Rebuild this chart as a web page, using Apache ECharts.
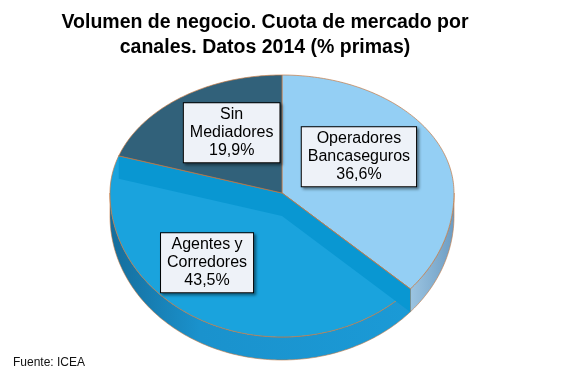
<!DOCTYPE html>
<html lang="es">
<head>
    <meta charset="UTF-8">
    <title>Cuota de mercado por canales 2014</title>
    <script src="https://cdn.jsdelivr.net/npm/echarts@6/dist/echarts.min.js"></script>
</head>
<body style="margin:0">
<style>
    html, body { width: 567px; height: 378px; background: #fff; }
    #main { width: 567px; height: 378px; }
</style>
<div id="main"></div>
<script type="text/javascript">
    // datos
    var categories = ['Operadores\nBancaseguros', 'Agentes y\nCorredores', 'Sin\nMediadores']
    var shares = [36.6, 43.5, 19.9]

    // geometria del pastel "3D" (elipse con algo de perspectiva)
    var cx = 282, cy = 193, rx = 172, ryTop = 118, ryBot = 144, depth = 23
    var topColors = ['#94cff4', '#1aa3dd', '#31617a']
    var labelSpot = [[0.49, 0.75], [0.87, 0.56], [0.5, 0.63]]
    var edge = '#c47a45'

    function pt(t, dy) {
        var s = Math.sin(t), c = Math.cos(t)
        var ry = c > 0 ? ryTop : ryBot
        return [cx + rx * s, cy - ry * c + (dy || 0)]
    }

    function arc(a, b, dy) {
        var pts = []
        var n = Math.max(2, Math.ceil((b - a) / (Math.PI / 180)))
        for (var k = 0; k <= n; k++) pts.push(pt(a + (b - a) * k / n, dy))
        return pts
    }

    var total = shares.reduce(function (a, b) { return a + b }, 0)

    function renderItem(params, api) {
        var i = params.dataIndex
        var before = 0
        for (var j = 0; j < i; j++) before += shares[j]
        var a = before / total * Math.PI * 2
        var b = (before + api.value(0)) / total * Math.PI * 2
        var children = []

        // pared lateral (solo la mitad delantera)
        var fa = Math.max(a, Math.PI / 2), fb = Math.min(b, Math.PI * 1.5)
        if (fb > fa) {
            var up = arc(fa, fb, 0), down = arc(fa, fb, depth).reverse()
            var sideFill = i === 0
                ? new echarts.graphic.LinearGradient(0, 0, 1, 0, [
                    {offset: 0, color: '#9cc5e2'}, {offset: 1, color: '#6d9cc2'}])
                : new echarts.graphic.LinearGradient(0, 0, 1, 0, [
                    {offset: 0, color: '#156d9c'}, {offset: 0.3, color: '#1a92cd'},
                    {offset: 1, color: '#1b9ad6'}])
            children.push({
                type: 'polygon',
                shape: {points: up.concat(down)},
                style: {fill: sideFill, stroke: edge, lineWidth: 0.6}
            })
        }

        // cara superior
        children.push({
            type: 'polygon',
            shape: {points: [[cx, cy]].concat(arc(a, b, 0))},
            style: {fill: topColors[i], stroke: edge, lineWidth: 0.7}
        })

        // caras de corte que se ven a traves del sector grande
        if (i === 1) {
            [a, b].forEach(function (t) {
                var p = pt(t, 0), q = pt(t, depth)
                children.push({
                    type: 'polygon',
                    shape: {points: [[cx, cy], p, q, [cx, cy + depth]]},
                    style: {fill: '#0997d2', stroke: null}
                })
                children.push({
                    type: 'line',
                    shape: {x1: cx, y1: cy, x2: p[0], y2: p[1]},
                    style: {stroke: edge, lineWidth: 0.8}
                })
            })
        }

        // etiqueta
        var m = (a + b) / 2
        var s = Math.sin(m), c = Math.cos(m)
        var lx = cx + rx * s * labelSpot[i][0]
        var ly = cy - (c > 0 ? ryTop : ryBot) * c * labelSpot[i][1]
        children.push({
            type: 'text',
            z2: 100,
            style: {
                x: lx, y: ly,
                text: categories[i] + '\n' + api.value(0).toFixed(1).replace('.', ',') + '%',
                align: 'center', verticalAlign: 'middle',
                font: '16px "Liberation Sans", Arial, sans-serif',
                lineHeight: 18,
                fill: '#000',
                backgroundColor: '#eef2f8',
                borderColor: '#000',
                borderWidth: 1,
                padding: [3, 6, 2, 6],
                shadowColor: 'rgba(0,0,0,0.45)',
                shadowBlur: 3,
                shadowOffsetX: 2,
                shadowOffsetY: 2
            }
        })

        return {type: 'group', children: children}
    }

    var myChart = echarts.init(document.getElementById('main'))
    myChart.setOption({
        animation: false,
        graphic: [{
            type: 'text',
            x: 265,
            y: 10,
            style: {
                text: 'Volumen de negocio. Cuota de mercado por\ncanales. Datos 2014 (% primas)',
                align: 'center',
                verticalAlign: 'top',
                font: 'bold 19.5px "Liberation Sans", Arial, sans-serif',
                lineHeight: 25,
                fill: '#000'
            }
        }, {
            type: 'text',
            left: 13,
            top: 357,
            style: {
                text: 'Fuente: ICEA',
                font: '12px "Liberation Sans", Arial, sans-serif',
                fill: '#111'
            }
        }],
        series: [{
            type: 'custom',
            coordinateSystem: 'none',
            renderItem: renderItem,
            data: shares.map(function (v, i) { return {name: categories[i], value: v} })
        }]
    })
</script>
</body>
</html>
